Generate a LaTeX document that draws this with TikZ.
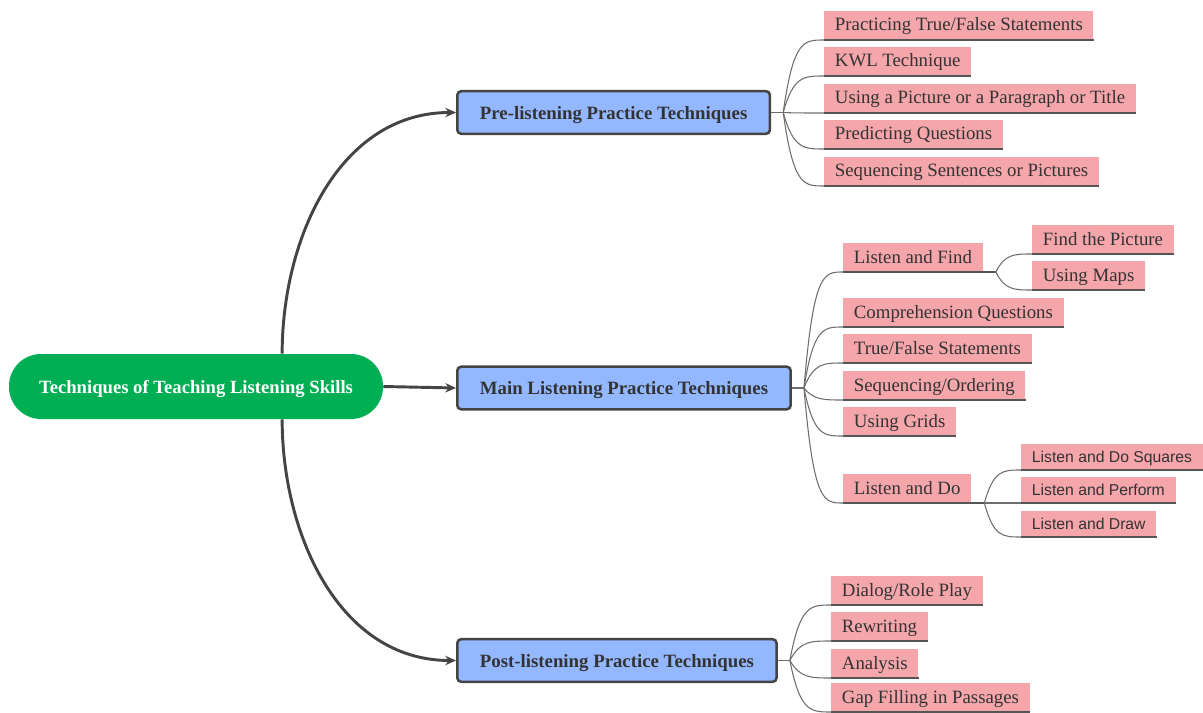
\documentclass[tikz,border=0pt]{standalone}
\usepackage{fontspec}
\setmainfont{Liberation Serif}
\newfontfamily\arialf{Liberation Sans}
\usetikzlibrary{calc,arrows.meta}
\definecolor{leafpink}{RGB}{244,166,171}
\definecolor{midblue}{RGB}{148,184,255}
\definecolor{rootgreen}{RGB}{0,174,83}
\definecolor{txt}{RGB}{51,51,51}
\definecolor{edgec}{RGB}{68,68,68}
\definecolor{ulc}{RGB}{85,85,85}
\definecolor{brc}{RGB}{110,110,110}
\newcommand\leafline[1]{\draw[uline] (#1.south west) -- (#1.south east);}
\newcommand\brch[2]{\draw[branch] (#1) .. controls ($(#1 |- #2)!0.25!(#2)$) and ($(#1 |- #2)!0.5!(#2)$) .. (#2);}
\begin{document}
\begin{tikzpicture}[x=0.75pt,y=-0.75pt,
  leaf/.style={fill=leafpink, text=txt, font=\fontsize{14.1}{16}\selectfont, inner xsep=8pt, inner ysep=0pt, text height=10.8pt, text depth=2.4pt, minimum height=21.5pt, anchor=south west},
  sleaf/.style={leaf, font=\arialf\fontsize{11.8}{14}\selectfont, text height=9.8pt, text depth=1.8pt, minimum height=19.5pt},
  mid/.style={fill=midblue, draw=edgec, line width=1.9pt, rounded corners=3pt, text=txt, font=\bfseries\fontsize{14.1}{16}\selectfont, inner xsep=17pt, inner ysep=0pt, text height=11.5pt, text depth=1.5pt, minimum height=32pt, anchor=west},
  rootn/.style={fill=rootgreen, text=white, font=\bfseries\fontsize{14}{16}\selectfont, rounded corners=24pt, inner ysep=0pt, text height=11.5pt, text depth=1.3pt, minimum height=48.75pt, minimum width=280.5pt},
  uline/.style={draw=ulc, line width=1.1pt},
  branch/.style={draw=brc, line width=0.8pt},
  conn/.style={draw=edgec, line width=2.2pt, -{Stealth[length=8pt,width=7pt]}}
]
\useasboundingbox (0,0) rectangle (1203,713);

\node[rootn] (root) at (196,386.5) {Techniques of Teaching Listening Skills};
\node[mid] (pre) at (456,112.5) {Pre-listening Practice Techniques};
\node[mid] (main) at (456,388) {Main Listening Practice Techniques};
\node[mid] (post) at (456,660.5) {Post-listening Practice Techniques};

\draw[conn] ($(root.north west)!0.73!(root.north east)$) to[out=90,in=180] (pre.west);
\draw[conn] ($(root.south west)!0.73!(root.south east)$) to[out=-90,in=180] (post.west);
\draw[conn] (root.east) -- (main.west);

% pre
\coordinate (pj) at ($(pre.east)+(12,0)$);
\draw[branch] (pre.east) -- (pj);
\node[leaf] (p1) at (824,40) {Practicing True/False Statements};
\node[leaf] (p2) at (824,76) {KWL Technique};
\node[leaf] (p3) at (824,113) {Using a Picture or a Paragraph or Title};
\node[leaf] (p4) at (824,149) {Predicting Questions};
\node[leaf] (p5) at (824,186) {Sequencing Sentences or Pictures};
\foreach \n in {p1,p2,p3,p4,p5}{\leafline{\n}\brch{pj}{\n.south west}}

% main
\coordinate (mj) at ($(main.east)+(12,0)$);
\draw[branch] (main.east) -- (mj);
\node[leaf] (m1) at (843,272) {Listen and Find};
\node[leaf] (m2) at (843,327) {Comprehension Questions};
\node[leaf] (m3) at (843,363) {True/False Statements};
\node[leaf] (m4) at (843,400) {Sequencing/Ordering};
\node[leaf] (m5) at (843,436) {Using Grids};
\node[leaf] (m6) at (843,503) {Listen and Do};
\foreach \n in {m1,m2,m3,m4,m5,m6}{\leafline{\n}\brch{mj}{\n.south west}}

\coordinate (fj) at ($(m1.south east)+(13,0)$);
\draw[uline] (m1.south east) -- (fj);
\node[leaf] (s1) at (1032,254) {Find the Picture};
\node[leaf] (s2) at (1032,290) {Using Maps};
\foreach \n in {s1,s2}{\leafline{\n}\brch{fj}{\n.south west}}

\coordinate (dj) at ($(m6.south east)+(13,0)$);
\draw[uline] (m6.south east) -- (dj);
\node[sleaf] (d1) at (1021,470) {Listen and Do Squares};
\node[sleaf] (d2) at (1021,503) {Listen and Perform};
\node[sleaf] (d3) at (1021,537) {Listen and Draw};
\foreach \n in {d1,d2,d3}{\leafline{\n}\brch{dj}{\n.south west}}

% post
\coordinate (qj) at ($(post.east)+(12,0)$);
\draw[branch] (post.east) -- (qj);
\node[leaf] (q1) at (831,605) {Dialog/Role Play};
\node[leaf] (q2) at (831,641) {Rewriting};
\node[leaf] (q3) at (831,678) {Analysis};
\node[leaf] (q4) at (831,712) {Gap Filling in Passages};
\foreach \n in {q1,q2,q3,q4}{\leafline{\n}\brch{qj}{\n.south west}}
\end{tikzpicture}
\end{document}
